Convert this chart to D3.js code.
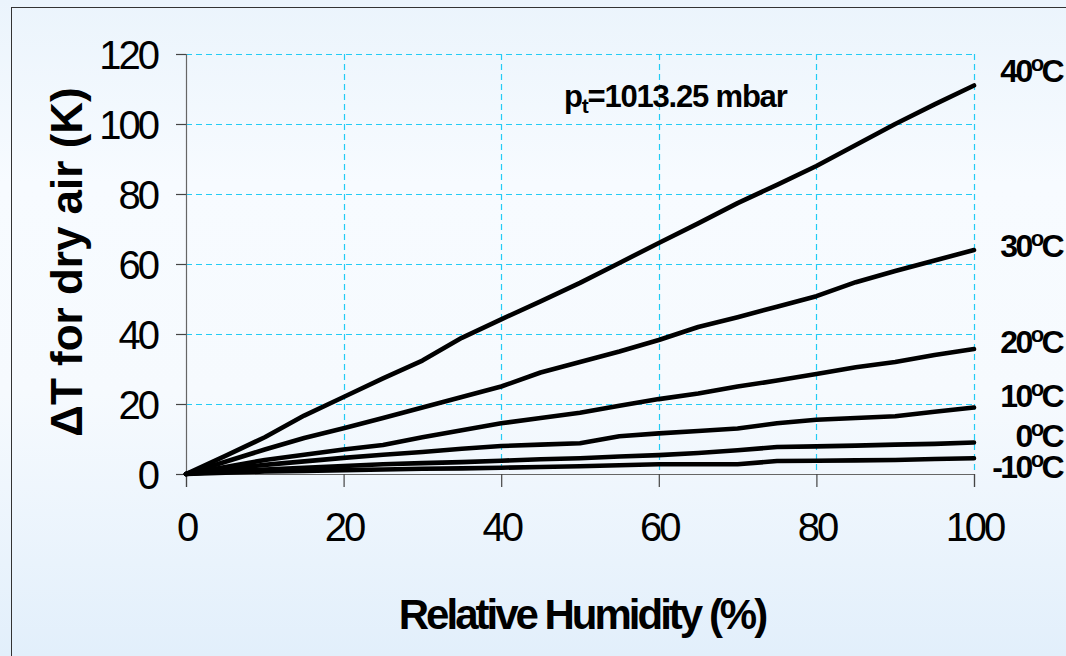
<!DOCTYPE html>
<html>
<head>
<meta charset="utf-8">
<script src="https://cdn.jsdelivr.net/npm/d3@7"></script>
<style>
  html, body { margin: 0; padding: 0; background: #eef5fc; }
  svg { display: block; font-family: "Liberation Sans", Arial, sans-serif; }
</style>
</head>
<body>
<svg id="chart" width="1066" height="656"></svg>
<script>
// Relative humidity sample points (%)
const humidity = [0, 5, 10, 15, 20, 25, 30, 35, 40, 45, 50, 55, 60, 65, 70, 75, 80, 85, 90, 95, 100];

// Temperature rise for dry air (K) at each humidity, one array per air temperature
const t40  = [0, 5.2, 10.5, 16.7, 22, 27.3, 32.4, 38.9, 44.2, 49.3, 54.6, 60.3, 66, 71.6, 77.4, 82.6, 88, 94, 100, 105.6, 111];
const t30  = [0, 3.5, 7, 10.3, 13.1, 16, 19, 22, 25, 29, 32, 35, 38.3, 42, 44.8, 47.8, 50.8, 54.8, 58, 61, 64];
const t20  = [0, 2, 4, 5.5, 7, 8.3, 10.5, 12.5, 14.5, 16, 17.5, 19.5, 21.4, 23, 25, 26.7, 28.6, 30.5, 32, 34, 35.7];
const t10  = [0, 1.5, 2.6, 3.6, 4.6, 5.5, 6.3, 7.2, 8, 8.4, 8.8, 10.8, 11.6, 12.3, 13, 14.5, 15.5, 16, 16.5, 17.8, 19];
const t0   = [0, 0.8, 1.3, 1.8, 2.3, 2.8, 3.1, 3.4, 3.8, 4.2, 4.5, 5, 5.4, 6, 6.8, 7.7, 7.9, 8.1, 8.4, 8.6, 9];
const tm10 = [0, 0.4, 0.7, 0.9, 1.1, 1.3, 1.5, 1.6, 1.8, 2, 2.2, 2.5, 2.8, 2.8, 2.8, 3.7, 3.8, 3.9, 4, 4.3, 4.5];

const seriesValues = [t40, t30, t20, t10, t0, tm10];
const seriesLabels = ["40", "30", "20", "10", "0", "-10"];

// Axis ticks
const xTicks = [0, 20, 40, 60, 80, 100];
const yTicks = [0, 20, 40, 60, 80, 100, 120];

const xTitle = "Relative Humidity (%)";
const yTitle = "\u0394T for dry air (K)";

const svg = d3.select("#chart");
const W = 1066, H = 656;
const plot = { left: 186, right: 974, top: 54, bottom: 474 };

// Background gradient
const defs = svg.append("defs");
const grad = defs.append("linearGradient")
  .attr("id", "bg").attr("x1", 0).attr("y1", 0).attr("x2", 0).attr("y2", 1);
grad.append("stop").attr("offset", "0%").attr("stop-color", "#ebf4fc");
grad.append("stop").attr("offset", "28%").attr("stop-color", "#f7fbff");
grad.append("stop").attr("offset", "60%").attr("stop-color", "#f6fafe");
grad.append("stop").attr("offset", "100%").attr("stop-color", "#e2effb");

svg.append("rect").attr("x", 0).attr("y", 0).attr("width", W).attr("height", H)
  .attr("fill", "url(#bg)");

// Chart frame
svg.append("rect")
  .attr("x", 11.5).attr("y", 7.5).attr("width", W + 20).attr("height", H + 20)
  .attr("fill", "none").attr("stroke", "#333").attr("stroke-width", 1);

const x = d3.scaleLinear().domain([0, 100]).range([plot.left, plot.right]);
const y = d3.scaleLinear().domain([0, 120]).range([plot.bottom, plot.top]);

// Dashed grid
const grid = svg.append("g").attr("stroke", "#22ccf5").attr("stroke-width", 1.2)
  .attr("stroke-dasharray", "6,4").attr("fill", "none");
grid.selectAll("line.h").data(yTicks.filter(d => d > 0)).join("line")
  .attr("x1", plot.left).attr("x2", plot.right)
  .attr("y1", d => Math.round(y(d)) + 0.5).attr("y2", d => Math.round(y(d)) + 0.5);
grid.selectAll("line.v").data(xTicks.filter(d => d > 0)).join("line")
  .attr("y1", plot.top).attr("y2", plot.bottom)
  .attr("x1", d => Math.round(x(d)) + 0.5).attr("x2", d => Math.round(x(d)) + 0.5);

// Axes
const xAxis = svg.append("g").attr("transform", `translate(0,${plot.bottom})`)
  .call(d3.axisBottom(x).tickValues(xTicks).tickSize(13).tickPadding(26).tickFormat(d3.format("d")));
const yAxis = svg.append("g").attr("transform", `translate(${plot.left},0)`)
  .call(d3.axisLeft(y).tickValues(yTicks).tickSize(10).tickPadding(19).tickFormat(d3.format("d")));

[xAxis, yAxis].forEach(a => {
  a.select(".domain").attr("stroke", "#666").attr("stroke-width", 1.2);
  a.selectAll(".tick line").attr("stroke", "#444").attr("stroke-width", 1.2);
  a.selectAll(".tick text")
    .attr("fill", "#000")
    .style("font-family", "'Liberation Sans', Arial, sans-serif")
    .style("font-size", "40px")
    .style("letter-spacing", "-3px");
});
xAxis.selectAll(".tick text").attr("dy", "0.71em");
yAxis.selectAll(".tick text").attr("dy", "0.35em");

// Curves
const line = d3.line()
  .x((d, i) => x(humidity[i]))
  .y(d => y(d));

svg.append("g").selectAll("path").data(seriesValues).join("path")
  .attr("d", d => line(d))
  .attr("fill", "none")
  .attr("stroke", "#000")
  .attr("stroke-width", 4.6)
  .attr("stroke-linejoin", "round")
  .attr("stroke-linecap", "round");

// Curve labels at right edge
const labelBaselines = [82, 257, 353, 407, 447, 478];
const labels = svg.append("g")
  .attr("font-weight", "bold")
  .attr("font-size", 32)
  .attr("text-anchor", "end")
  .style("letter-spacing", "-2.6px");
seriesLabels.forEach((lab, i) => {
  const t = labels.append("text").attr("x", 1062).attr("y", labelBaselines[i]);
  t.append("tspan").text(lab);
  t.append("tspan").attr("font-size", 22).attr("dy", -11).text("o");
  t.append("tspan").attr("dy", 11).text("C");
});

// Pressure annotation
const ann = svg.append("text")
  .attr("x", 564).attr("y", 107)
  .attr("font-weight", "bold")
  .attr("font-size", 31)
  .style("letter-spacing", "-1.2px");
ann.append("tspan").text("p");
ann.append("tspan").attr("font-size", 21).attr("dy", 6).text("t");
ann.append("tspan").attr("dy", -6).text("=1013.25 mbar");

// Axis titles
svg.append("text")
  .attr("x", (plot.left + plot.right) / 2 + 2)
  .attr("y", 629)
  .attr("text-anchor", "middle")
  .attr("font-weight", "bold")
  .attr("font-size", 42)
  .style("letter-spacing", "-3px")
  .text(xTitle);

svg.append("text")
  .attr("transform", `translate(82,${(plot.top + plot.bottom) / 2 - 2}) rotate(-90)`)
  .attr("text-anchor", "middle")
  .attr("font-weight", "bold")
  .attr("font-size", 44)
  .text(yTitle);
</script>
</body>
</html>
